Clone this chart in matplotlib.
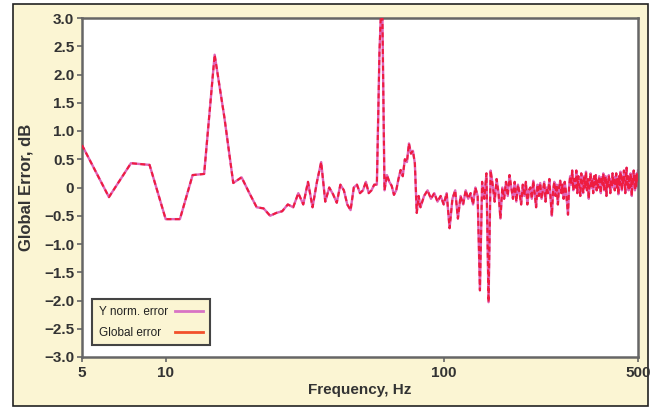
"""
Global error vs frequency
"""
import matplotlib
matplotlib.use("Agg")
import matplotlib.pyplot as plt
import numpy as np
from matplotlib.patches import Rectangle
from matplotlib.lines import Line2D


# Low band, 1.25 Hz grid
FREQ_LOW = [
    5.0, 6.25, 7.5, 8.75, 10.0, 11.25, 12.5, 13.75, 15.0, 16.25, 17.5, 18.75,
    20.0, 21.25, 22.5, 23.75, 25.0, 26.25, 27.5, 28.75, 30.0, 31.25, 32.5,
    33.75, 35.0, 36.25, 37.5, 38.75, 40.0, 41.25, 42.5, 43.75, 45.0, 46.25,
    47.5, 48.75, 50.0, 51.25, 52.5, 53.75, 55.0, 56.25, 57.5, 58.75, 60.0,
    61.25, 62.5, 63.75, 65.0, 66.25, 67.5, 68.75, 70.0, 71.25, 72.5, 73.75,
    75.0, 76.25, 77.5, 78.75, 80.0, 81.25, 82.5,
]
ERR_LOW = [
    0.75, -0.17, 0.43, 0.40, -0.56, -0.56, 0.22, 0.24, 2.35, 1.25, 0.08, 0.18,
    -0.10, -0.35, -0.37, -0.50, -0.45, -0.42, -0.30, -0.35, -0.10, -0.30, 0.10,
    -0.35, 0.10, 0.45, -0.25, 0.00, -0.12, -0.27, 0.05, -0.05, -0.30, -0.40,
    0.00, 0.05, -0.10, -0.05, 0.10, -0.10, -0.05, 0.05, 0.05, 2.40, 3.60,
    -0.05, 0.22, 0.10, 0.03, -0.13, -0.05, 0.15, 0.31, 0.20, 0.50, 0.45,
    0.78, 0.60, 0.65, 0.43, -0.45, -0.15, -0.35,
]

# High band, 2.5 Hz grid starting at 85 Hz
F_START = 85.0
F_STEP = 2.5
ERR_HIGH = [
    -0.15, -0.05, -0.20, -0.10, -0.25, -0.15, -0.30, -0.10, -0.72, -0.20,
    -0.05, -0.55, -0.15, -0.30, -0.05, -0.20, -0.10, -0.30, 0.00, -0.15,
    -1.82, 0.10, -0.20, 0.25, -2.03, 0.30, 0.05, -0.25, 0.15, -0.10,
    -0.55, 0.00, -0.20, 0.10, -0.15, 0.22, 0.00, -0.20, 0.10, -0.25,
    0.05, -0.10, -0.30, 0.05, -0.15, 0.10, -0.30, -0.05, 0.00, -0.20,
    0.12, -0.10, -0.35, 0.05, -0.15, 0.08, -0.20, -0.05, 0.10, -0.25,
    0.00, -0.10, 0.15, -0.20, -0.50, -0.05, 0.10, -0.15, 0.05, -0.30,
    0.00, 0.12, -0.10, 0.05, -0.20, 0.10, -0.05, -0.25, -0.48, 0.00,
    0.20, 0.05, 0.30, -0.05, 0.15, 0.00, 0.30, -0.10, 0.20, 0.05,
    -0.15, 0.25, 0.10, -0.10, 0.20, 0.00, 0.28, -0.05, 0.15, -0.20,
    0.10, 0.25, 0.00, 0.15, -0.10, 0.20, 0.05, 0.22, -0.05, 0.12,
    0.00, 0.20, 0.05, -0.10, 0.18, 0.05, 0.25, -0.05, 0.10, 0.20,
    -0.15, 0.12, 0.02, 0.22, 0.08, -0.10, 0.15, 0.00, 0.25, 0.05,
    0.18, -0.05, 0.12, 0.25, 0.00, 0.15, -0.12, 0.20, 0.05, 0.28,
    0.10, -0.05, 0.20, 0.05, 0.30, 0.10, -0.10, 0.22, 0.35, 0.05,
    0.20, -0.05, 0.15, 0.00, 0.25, 0.10, -0.15, 0.18, 0.05, 0.30,
    0.10, -0.05, 0.20, 0.00, 0.25, 0.10, 0.30,
]

Y_TICKS = [3.0, 2.5, 2.0, 1.5, 1.0, 0.5, 0, -0.5, -1.0, -1.5, -2.0, -2.5, -3.0]
Y_LABELS = ["3.0", "2.5", "2.0", "1.5", "1.0", "0.5", "0", "\u22120.5",
            "\u22121.0", "\u22121.5", "\u22122.0", "\u22122.5", "\u22123.0"]
X_TICKS = [5, 10, 100, 500]
X_LABELS = ["5", "10", "100", "500"]
# trailing spaces keep both legend texts the same width
LEGEND_LABELS = ["Y norm. error", "Global error  "]

freq_high = F_START + F_STEP * np.arange(len(ERR_HIGH))
freq = np.concatenate([FREQ_LOW, freq_high])
global_err = np.concatenate([ERR_LOW, ERR_HIGH])
ynorm_err = global_err  # both curves overlap in the original

plt.rcParams['font.family'] = ['Liberation Sans', 'DejaVu Sans']

fig = plt.figure(figsize=(6.6, 4.08), dpi=100)
fig.patch.set_facecolor('white')
# yellow panel with dark frame
fig.patches.append(Rectangle((13 / 660, 2 / 408), 635 / 660, 402 / 408,
                             transform=fig.transFigure, facecolor='#fbf5d3',
                             edgecolor='#222222', linewidth=1.2, zorder=-1))

ax = fig.add_axes([82 / 660, 1 - 357 / 408, 556 / 660, 339 / 408])
ax.set_facecolor('white')

ax.plot(freq, ynorm_err, color='#e064b8', lw=1.7, zorder=2)
ax.plot(freq, global_err, color='#ee1c40', lw=1.5, ls=(0, (2.4, 1.6)), zorder=3)

ax.set_xscale('log')
ax.set_xlim(5, 500)
ax.set_ylim(-3, 3)
ax.set_xticks(X_TICKS)
ax.set_xticklabels(X_LABELS)
ax.xaxis.set_minor_locator(matplotlib.ticker.NullLocator())
ax.set_yticks(Y_TICKS)
ax.set_yticklabels(Y_LABELS)

for s in ax.spines.values():
    s.set_color('#666666')
    s.set_linewidth(1.8)
ax.tick_params(axis='both', direction='out', length=3.5, width=1.2,
               color='#666666', labelsize=11, labelcolor='#333333')
ax.tick_params(axis='x', pad=3)
ax.tick_params(axis='y', pad=2)
for lbl in ax.get_xticklabels() + ax.get_yticklabels():
    lbl.set_fontweight('bold')

ax.set_xlabel('Frequency, Hz', fontsize=11, fontweight='bold', color='#333333',
              labelpad=2)
ax.set_ylabel('Global Error, dB', fontsize=12, fontweight='bold',
              color='#333333', labelpad=8)

# legend with swatch lines on the right
handles = [Line2D([], [], color='#d873c4', lw=2),
           Line2D([], [], color='#f2502a', lw=2)]
leg = ax.legend(handles, LEGEND_LABELS, loc='lower left',
                bbox_to_anchor=(0.018, 0.035), markerfirst=False, fontsize=8.5,
                frameon=True, fancybox=False, handlelength=2.4,
                handletextpad=0.6, borderpad=0.55, labelspacing=0.75,
                borderaxespad=0)
leg.get_frame().set_facecolor('#fbf5d3')
leg.get_frame().set_edgecolor('#444444')
leg.get_frame().set_linewidth(1.5)
leg.get_frame().set_alpha(1)
for t in leg.get_texts():
    t.set_color('#222222')

fig.savefig('out.png', dpi=100, facecolor=fig.get_facecolor())
